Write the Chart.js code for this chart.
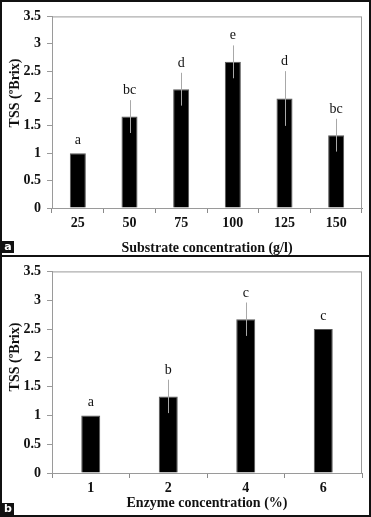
<!DOCTYPE html>
<html>
<head>
<meta charset="utf-8">
<script src="https://cdn.jsdelivr.net/npm/chart.js@4.4.1/dist/chart.umd.min.js"></script>
<style>
	body { margin: 0; background: #fff; }
	#frame {
		position: relative;
		width: 371px;
		height: 517px;
		box-sizing: border-box;
		border: 2px solid #111;
		background: #fff;
	}
	canvas { display: block; }
	#sep { height: 2px; background: #111; }
	.tag {
		position: absolute;
		left: 0;
		width: 12px;
		height: 12px;
		background: #111;
		color: #fff;
		font: bold 11px "DejaVu Sans", sans-serif;
		line-height: 12px;
		text-align: center;
	}
</style>
</head>
<body>
<div id="frame">
	<canvas id="chartA" width="367" height="253"></canvas>
	<div id="sep"></div>
	<canvas id="chartB" width="367" height="258"></canvas>
	<div class="tag" style="top:239px">a</div>
	<div class="tag" style="top:501px">b</div>
</div>
<script>
// Panel a: substrate concentration
const substrateLabels = ["25", "50", "75", "100", "125", "150"];
const substrateTSS = [1.0, 1.67, 2.17, 2.67, 2.0, 1.33];
const substrateErr = [0, 0.3, 0.3, 0.3, 0.5, 0.3];
const substrateLetters = ["a", "bc", "d", "e", "d", "bc"];

// Panel b: enzyme concentration
const enzymeLabels = ["1", "2", "4", "6"];
const enzymeTSS = [1.0, 1.33, 2.67, 2.5];
const enzymeErr = [0, 0.29, 0.29, 0];
const enzymeLetters = ["a", "b", "c", "c"];

const yTicks = [0, 0.5, 1, 1.5, 2, 2.5, 3, 3.5];
const yTickLabels = ["0", "0.5", "1", "1.5", "2", "2.5", "3", "3.5"];

const serif = "'Liberation Serif', 'Times New Roman', serif";

// error bars, letters, plot box and y title
const extrasPlugin = {
	id: "extras",
	afterDatasetsDraw(chart, args, opts) {
		const { ctx, chartArea } = chart;
		const meta = chart.getDatasetMeta(0);
		const y = chart.scales.y;
		ctx.save();
		// box round the plot
		ctx.strokeStyle = "#9a9a9a";
		ctx.lineWidth = 1;
		ctx.strokeRect(chartArea.left + 0.5, chartArea.top + 0.5,
			chartArea.right - chartArea.left - 1, chartArea.bottom - chartArea.top);
		meta.data.forEach((bar, i) => {
			const v = opts.values[i];
			const e = opts.errors[i];
			const x = Math.round(bar.x) + 0.5;
			if (e > 0) {
				ctx.strokeStyle = "#a8a8a8";
				ctx.beginPath();
				ctx.moveTo(x, y.getPixelForValue(v - e));
				ctx.lineTo(x, y.getPixelForValue(v + e));
				ctx.stroke();
			}
			ctx.fillStyle = "#111";
			ctx.font = "14px " + serif;
			ctx.textAlign = "center";
			ctx.textBaseline = "alphabetic";
			const gap = e > 0 ? 6 : 9;
			ctx.fillText(opts.letters[i], bar.x, y.getPixelForValue(v + e) - gap);
		});
		// y axis title
		ctx.translate(13, opts.titleY);
		ctx.rotate(-Math.PI / 2);
		ctx.font = "bold 14px " + serif;
		ctx.fillStyle = "#111";
		ctx.textAlign = "center";
		ctx.textBaseline = "middle";
		ctx.fillText("TSS (ºBrix)", 0, 0);
		ctx.restore();
	},
};

function makeChart(id, labels, values, errors, letters, opt) {
	const ctx = document.getElementById(id).getContext("2d");
	return new Chart(ctx, {
		type: "bar",
		data: {
			labels: labels,
			datasets: [
				{
					data: values,
					backgroundColor: "#000",
					borderColor: "#555",
					borderWidth: 1,
					barPercentage: opt.barPct,
					categoryPercentage: 1,
				},
			],
		},
		options: {
			responsive: false,
			animation: false,
			layout: { padding: { top: opt.top, right: 7, left: 0, bottom: 0 } },
			plugins: {
				legend: { display: false },
				tooltip: { enabled: false },
				extras: { values: values, errors: errors, letters: letters, titleY: opt.titleY },
			},
			scales: {
				x: {
					afterFit: (s) => { s.height = opt.xHeight; },
					grid: {
						display: true,
						offset: true,
						drawOnChartArea: false,
						tickLength: 5,
						color: "#8a8a8a",
					},
					border: { color: "#8a8a8a" },
					ticks: {
						color: "#111",
						padding: 2,
						font: { family: serif, size: 14, weight: "bold" },
					},
					title: {
						display: true,
						text: opt.xTitle,
						color: "#111",
						padding: { top: 0, bottom: opt.titlePad },
						font: { family: serif, size: 14, weight: "bold", lineHeight: 1 },
					},
				},
				y: {
					min: 0,
					max: 3.5,
					afterFit: (s) => { s.width = 50; },
					afterBuildTicks: (s) => { s.ticks = yTicks.map((v) => ({ value: v })); },
					grid: {
						display: true,
						drawOnChartArea: false,
						tickLength: 5,
						color: "#9a9a9a",
					},
					border: { color: "#9a9a9a" },
					ticks: {
						color: "#111",
						padding: 6,
						font: { family: serif, size: 14, weight: "bold" },
						callback: (value, index) => yTickLabels[index],
					},
				},
			},
		},
		plugins: [extrasPlugin],
	});
}

makeChart("chartA", substrateLabels, substrateTSS, substrateErr, substrateLetters, {
	barPct: 0.31, top: 10, xHeight: 47, titlePad: 0, titleY: 91,
	xTitle: "Substrate concentration (g/l)",
});

makeChart("chartB", enzymeLabels, enzymeTSS, enzymeErr, enzymeLetters, {
	barPct: 0.245, top: 13, xHeight: 42, titlePad: 5, titleY: 100,
	xTitle: "Enzyme concentration (%)",
});
</script>
</body>
</html>
